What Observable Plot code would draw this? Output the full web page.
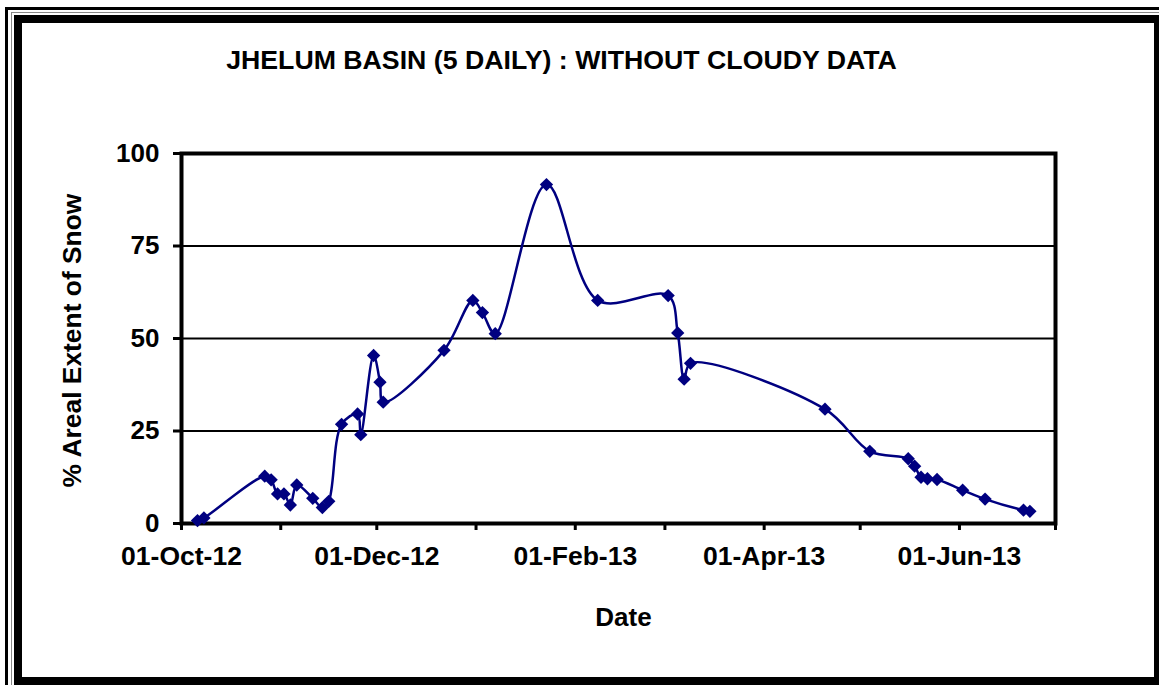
<!DOCTYPE html>
<html>
<head>
<meta charset="utf-8">
<script src="https://cdn.jsdelivr.net/npm/d3@7"></script>
<script src="https://cdn.jsdelivr.net/npm/@observablehq/plot@0.6"></script>
<style>
  html, body { margin: 0; padding: 0; background: #fff; }
  #page { position: relative; width: 1159px; height: 685px; overflow: hidden; background: #fff; }
  .bar { position: absolute; background: #000; }
  .gray { position: absolute; background: #888; }
  #chart { position: absolute; left: 0; top: 0; }
</style>
</head>
<body>
<div id="page">
  <!-- outer decorative frame -->
  <div class="bar" style="left:5px; top:7px; width:1154px; height:3px;"></div>
  <div class="bar" style="left:5px; top:7px; width:3px; height:678px;"></div>
  <div class="gray" style="left:11px; top:12px; width:1148px; height:1px;"></div>
  <div class="gray" style="left:11px; top:12px; width:1px; height:673px;"></div>
  <div class="bar" style="left:14px; top:15px; width:1145px; height:8px;"></div>
  <div class="bar" style="left:14px; top:15px; width:8px; height:670px;"></div>
  <div class="bar" style="left:1154px; top:15px; width:5px; height:670px;"></div>
  <div class="bar" style="left:14px; top:677px; width:1145px; height:8px;"></div>
  <div id="chart"></div>
</div>
<script>
const titleText = "JHELUM BASIN (5 DAILY) : WITHOUT CLOUDY DATA";
const xLabel = "Date";
const yLabel = "% Areal Extent of Snow";

const dates = [
  "2012-10-06","2012-10-08","2012-10-27","2012-10-29","2012-10-31","2012-11-02",
  "2012-11-04","2012-11-06","2012-11-11","2012-11-14","2012-11-16","2012-11-20",
  "2012-11-25","2012-11-26","2012-11-30","2012-12-02","2012-12-03","2012-12-22",
  "2012-12-31","2013-01-03","2013-01-07","2013-01-23","2013-02-08","2013-03-02",
  "2013-03-05","2013-03-07","2013-03-09","2013-04-20","2013-05-04","2013-05-16",
  "2013-05-18","2013-05-20","2013-05-22","2013-05-25","2013-06-02","2013-06-09",
  "2013-06-21","2013-06-23"
];
const snowPct = [
  0.8, 1.5, 12.8, 11.8, 8.0, 8.0,
  5.0, 10.4, 6.8, 4.3, 6.0, 26.8,
  29.6, 24.0, 45.4, 38.2, 32.8, 46.8,
  60.3, 57.0, 51.3, 91.6, 60.3, 61.6,
  51.5, 39.0, 43.3, 30.9, 19.5, 17.5,
  15.5, 12.5, 12.1, 11.9, 9.0, 6.6,
  3.6, 3.3
];
const yTicks = [0, 25, 50, 75, 100];
const xDomain = ["2012-10-01", "2013-07-01"];
const labelledMonths = [9, 11, 1, 3, 5]; // Oct, Dec, Feb, Apr, Jun

const data = dates.map((d, i) => ({date: new Date(d + "T00:00:00Z"), value: snowPct[i]}));
const dom = xDomain.map(d => new Date(d + "T00:00:00Z"));
const monthTicks = d3.utcMonth.range(dom[0], d3.utcDay.offset(dom[1], 1));
const fmt = d3.utcFormat("%d-%b-%y");

const chart = Plot.plot({
  width: 1159,
  height: 685,
  marginLeft: 181,
  marginRight: 104,
  marginTop: 153,
  marginBottom: 162,
  style: {
    fontFamily: "'Liberation Sans', Arial, sans-serif",
    fontWeight: "bold",
    fontSize: "26px",
    color: "#000",
    background: "transparent",
    overflow: "visible"
  },
  x: {type: "utc", domain: dom},
  y: {domain: [0, 100]},
  marks: [
    Plot.gridY([25, 50, 75], {stroke: "#000", strokeOpacity: 1, strokeWidth: 2}),
    Plot.frame({stroke: "#000", strokeWidth: 4}),
    Plot.axisX({
      ticks: monthTicks,
      tickFormat: d => labelledMonths.includes(d.getUTCMonth()) ? fmt(d) : "",
      tickSize: 7, tickPadding: 16, strokeWidth: 3, label: null,
      fontSize: 26.5, fontWeight: "bold"
    }),
    Plot.axisY({
      ticks: yTicks, tickSize: 8, tickPadding: 14, strokeWidth: 3, label: null,
      fontSize: 26, fontWeight: "bold"
    }),
    Plot.line(data, {x: "date", y: "value", stroke: "#000080", strokeWidth: 2.5, curve: "catmull-rom"}),
    Plot.dot(data, {x: "date", y: "value", symbol: "diamond2", fill: "#000080", stroke: "none", r: 6}),
    Plot.text([titleText], {frameAnchor: "top", dx: -57, dy: -93, lineAnchor: "middle", fontSize: 26.7, fontWeight: "bold", fill: "#000"}),
    Plot.text([xLabel], {frameAnchor: "bottom", dx: 5, dy: 94, lineAnchor: "middle", fontSize: 26, fontWeight: "bold", fill: "#000"}),
    Plot.text([yLabel], {frameAnchor: "left", dx: -109, dy: 2, textAnchor: "middle", lineAnchor: "middle", rotate: -90, fontSize: 26.4, fontWeight: "bold", fill: "#000"})
  ]
});
document.getElementById("chart").appendChild(chart);
</script>
</body>
</html>
